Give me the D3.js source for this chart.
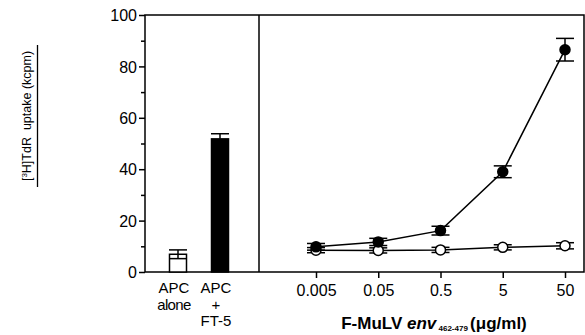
<!DOCTYPE html>
<html><head><meta charset="utf-8">
<script src="https://cdn.jsdelivr.net/npm/d3@7"></script>
<style>body{margin:0;background:#fff}text{font-family:"Liberation Sans",Arial,sans-serif;fill:#000}</style>
</head><body><svg id="c" width="585" height="335"></svg>
<script>
const barLabels = [["APC","alone"],["APC","+","FT-5"]];
const barValues = [6.9, 51.8];
const barErrors = [1.7, 2.0];
const barFills = ["#fff","#000"];
const doses = [0.005, 0.05, 0.5, 5, 50];
const doseLabels = ["0.005","0.05","0.5","5","50"];
const filledValues = [9.8, 11.7, 16.1, 39.0, 86.5];
const filledErrors = [1.3, 1.4, 1.7, 2.3, 4.4];
const openValues = [8.5, 8.4, 8.6, 9.6, 10.2];
const openErrors = [1.0, 1.0, 1.0, 1.0, 1.2];
const yTicks = [0,20,40,60,80,100];

const svg = d3.select("#c");
const L = 145, R = 584, T = 15, B = 272, DIV = 259;
const y = d3.scaleLinear().domain([0,100]).range([B,T]);
const xb = d3.scalePoint().domain([0,1]).range([178,220]);
const BW = 17;
const x = d3.scaleLog().domain([0.005,50]).range([316,565]);

// frame
svg.append("path").attr("d",`M${L},${B}H${R}V${T}H${L}Z`).attr("fill","none").attr("stroke","#000").attr("stroke-width",1.5);
svg.append("line").attr("x1",DIV).attr("x2",DIV).attr("y1",T).attr("y2",B).attr("stroke","#000").attr("stroke-width",1.5);

// y axis
const ya = svg.append("g").attr("transform",`translate(${L},0)`)
  .call(d3.axisLeft(y).tickValues(yTicks).tickSize(6).tickPadding(2).tickFormat(d3.format("d")));
ya.select(".domain").remove();
ya.selectAll("line").attr("stroke-width",1.5);
ya.selectAll("text").attr("font-size",16).attr("dy","0.35em");
const ym = svg.append("g").attr("transform",`translate(${L},0)`)
  .call(d3.axisLeft(y).tickValues(d3.range(10,100,20)).tickSize(4).tickFormat(""));
ym.select(".domain").remove();
ym.selectAll("line").attr("stroke-width",1.5);

// x axis (dose)
const xa = svg.append("g").attr("transform",`translate(0,${B})`)
  .call(d3.axisBottom(x).tickValues(doses).tickSize(6).tickPadding(7).tickFormat((d,i)=>doseLabels[i]));
xa.select(".domain").remove();
xa.selectAll("line").attr("stroke-width",1.5);
xa.selectAll("text").attr("font-size",16);

// bars
const bg = svg.append("g");
barValues.forEach((v,i)=>{
  const cx = xb(i);
  bg.append("rect").attr("x",cx-BW/2).attr("width",BW).attr("y",y(v)).attr("height",y(0)-y(v))
    .attr("fill",barFills[i]).attr("stroke","#000").attr("stroke-width",1.5);
  bg.append("line").attr("x1",cx).attr("x2",cx).attr("y1",y(v+barErrors[i])).attr("y2",y(v)).attr("stroke","#000").attr("stroke-width",1.5);
  if (barFills[i] !== "#000") {
    bg.append("line").attr("x1",cx).attr("x2",cx).attr("y1",y(v)).attr("y2",y(v-barErrors[i])).attr("stroke","#000").attr("stroke-width",1.5);
  }
  [v+barErrors[i], v-barErrors[i]].forEach(e=>{
    bg.append("line").attr("x1",cx-9).attr("x2",cx+9).attr("y1",y(e)).attr("y2",y(e))
      .attr("stroke","#000").attr("stroke-width",1.5);
  });
  barLabels[i].forEach((t,j)=>{
    bg.append("text").attr("x",cx-4).attr("y",293+j*16.5).attr("text-anchor","middle").attr("font-size",15)
      .attr("letter-spacing",j===1&&i===0?"-0.6":"0").text(t);
  });
});

// series
function series(vals, errs, fill){
  const g = svg.append("g");
  const line = d3.line().x((d,i)=>x(doses[i])).y(d=>y(d));
  g.append("path").attr("d",line(vals)).attr("fill","none").attr("stroke","#000").attr("stroke-width",1.5);
  vals.forEach((v,i)=>{
    const cx = x(doses[i]);
    g.append("line").attr("x1",cx).attr("x2",cx).attr("y1",y(v+errs[i])).attr("y2",y(v-errs[i])).attr("stroke","#000").attr("stroke-width",1.5);
    [v+errs[i], v-errs[i]].forEach(e=>g.append("line").attr("x1",cx-9).attr("x2",cx+9).attr("y1",y(e)).attr("y2",y(e)).attr("stroke","#000").attr("stroke-width",1.5));
    g.append("circle").attr("cx",cx).attr("cy",y(v)).attr("r",5).attr("fill",fill).attr("stroke","#000").attr("stroke-width",1.5);
  });
}
series(openValues, openErrors, "#fff");
series(filledValues, filledErrors, "#000");

// x title
const xt = svg.append("text").attr("x",434).attr("y",329).attr("text-anchor","middle").attr("font-size",17).attr("font-weight","bold");
xt.append("tspan").text("F-MuLV ");
xt.append("tspan").attr("font-style","italic").text("env");
xt.append("tspan").attr("font-size",8).attr("dy",2).text(" 462-479 ");
xt.append("tspan").attr("dy",-2).text("(μg/ml)");

// y title
const yt = svg.append("text").attr("transform","translate(31,116) rotate(-90)").attr("text-anchor","middle").attr("font-size",12.5).style("white-space","pre");
yt.append("tspan").text("[");
yt.append("tspan").attr("font-size",8).attr("dy",-4).text("3");
yt.append("tspan").attr("dy",4).text("H]TdR\u00a0 uptake (kcpm)");
svg.append("line").attr("x1",37.5).attr("x2",37.5).attr("y1",45).attr("y2",187).attr("stroke","#000").attr("stroke-width",1.3);
</script></body></html>
